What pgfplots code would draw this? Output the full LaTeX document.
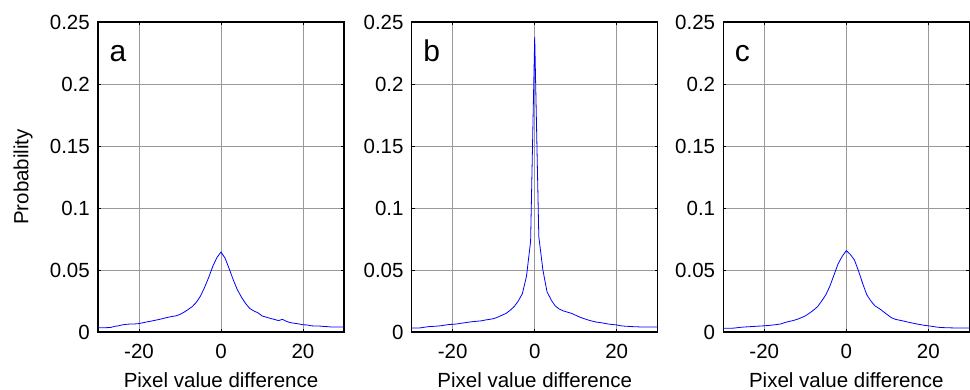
\documentclass[border=0pt]{standalone}
\usepackage{pgfplots}
\pgfplotsset{compat=1.18}
\usepackage{pgfplotstable}
\usepackage{fontspec}
\setmainfont{Liberation Sans}

\pgfplotstableread{
x y
-30 0.0035
-29 0.0035
-28 0.0035
-27 0.0036
-26 0.0045
-25 0.0050
-24 0.0058
-23 0.0062
-22 0.0065
-21 0.0065
-20 0.0068
-19 0.0075
-18 0.0082
-17 0.0088
-16 0.0095
-15 0.0102
-14 0.0110
-13 0.0118
-12 0.0125
-11 0.0130
-10 0.0142
-9 0.0160
-8 0.0182
-7 0.0205
-6 0.0240
-5 0.0290
-4 0.0360
-3 0.0440
-2 0.0530
-1 0.0600
0 0.0645
1 0.0595
2 0.0510
3 0.0420
4 0.0340
5 0.0280
6 0.0230
7 0.0190
8 0.0170
9 0.0155
10 0.0130
11 0.0120
12 0.0110
13 0.0102
14 0.0092
15 0.0102
16 0.0085
17 0.0075
18 0.0070
19 0.0065
20 0.0058
21 0.0057
22 0.0050
23 0.0048
24 0.0048
25 0.0045
26 0.0043
27 0.0040
28 0.0040
29 0.0040
30 0.0040
}\dataA

\pgfplotstableread{
x y
-30 0.0032
-29 0.0032
-28 0.0033
-27 0.0038
-26 0.0043
-25 0.0045
-24 0.0047
-23 0.0050
-22 0.0055
-21 0.0060
-20 0.0062
-19 0.0065
-18 0.0070
-17 0.0075
-16 0.0080
-15 0.0084
-14 0.0087
-13 0.0090
-12 0.0097
-11 0.0102
-10 0.0108
-9 0.0120
-8 0.0135
-7 0.0150
-6 0.0175
-5 0.0205
-4 0.0250
-3 0.0310
-2 0.0450
-1 0.0730
0 0.2380
1 0.0770
2 0.0500
3 0.0325
4 0.0260
5 0.0210
6 0.0185
7 0.0170
8 0.0160
9 0.0150
10 0.0135
11 0.0120
12 0.0108
13 0.0097
14 0.0088
15 0.0080
16 0.0076
17 0.0070
18 0.0064
19 0.0060
20 0.0057
21 0.0050
22 0.0047
23 0.0045
24 0.0043
25 0.0042
26 0.0040
27 0.0040
28 0.0040
29 0.0040
30 0.0040
}\dataB

\pgfplotstableread{
x y
-30 0.0030
-29 0.0030
-28 0.0030
-27 0.0033
-26 0.0037
-25 0.0040
-24 0.0042
-23 0.0044
-22 0.0046
-21 0.0048
-20 0.0050
-19 0.0053
-18 0.0056
-17 0.0060
-16 0.0065
-15 0.0076
-14 0.0085
-13 0.0092
-12 0.0102
-11 0.0115
-10 0.0130
-9 0.0152
-8 0.0176
-7 0.0205
-6 0.0250
-5 0.0300
-4 0.0370
-3 0.0460
-2 0.0550
-1 0.0610
0 0.0656
1 0.0625
2 0.0580
3 0.0490
4 0.0390
5 0.0300
6 0.0250
7 0.0210
8 0.0190
9 0.0165
10 0.0140
11 0.0115
12 0.0102
13 0.0095
14 0.0088
15 0.0080
16 0.0073
17 0.0066
18 0.0060
19 0.0054
20 0.0050
21 0.0045
22 0.0040
23 0.0036
24 0.0035
25 0.0034
26 0.0033
27 0.0032
28 0.0032
29 0.0032
30 0.0032
}\dataC

\pgfplotsset{
  panel/.style={
    scale only axis, width=246bp, height=310bp,
    anchor=south west,
    xmin=-30, xmax=30, ymin=0, ymax=0.25,
    xtick={-20,0,20}, xticklabels={-20,0,20},
    ytick={0,0.05,0.1,0.15,0.2,0.25},
    yticklabels={0,0.05,0.1,0.15,0.2,0.25},
    /pgf/number format/assume math mode=true,
    grid=major,
    major grid style={solid, black!40, line width=0.7bp},
    axis line style={black, line width=1.1bp},
    tick align=inside, major tick length=3bp,
    tick style={black, line width=0.6bp},
    every tick label/.append style={font=\fontsize{20.5bp}{24bp}\selectfont, inner sep=0pt},
    xticklabel style={anchor=north, yshift=-12bp},
    yticklabel style={anchor=east, xshift=-8bp},
    xlabel={Pixel value difference},
    xlabel style={font=\fontsize{20.5bp}{24bp}\selectfont, at={(axis description cs:0.5,0)}, anchor=base, inner sep=0pt, yshift=-55bp},
    clip=true,
  },
  curve/.style={blue, line width=0.8bp, mark=none},
}

\begin{document}
\begin{tikzpicture}
\useasboundingbox (0,0) rectangle (970bp,390bp);

\begin{axis}[panel, at={(98bp,58bp)},
  ylabel={Probability},
  ylabel style={font=\fontsize{20.5bp}{24bp}\selectfont, at={(axis description cs:-0.3049,0.5)}, anchor=center, inner sep=0pt}]
\addplot[curve] table[x=x,y=y] {\dataA};
\node[anchor=base west, inner sep=0pt, font=\fontsize{30bp}{34bp}\selectfont] at (axis cs:-27.2,0.218) {a};
\end{axis}

\begin{axis}[panel, at={(411.7bp,58bp)}]
\addplot[curve] table[x=x,y=y] {\dataB};
\node[anchor=base west, inner sep=0pt, font=\fontsize{30bp}{34bp}\selectfont] at (axis cs:-27.2,0.218) {b};
\end{axis}

\begin{axis}[panel, at={(723.3bp,58bp)}]
\addplot[curve] table[x=x,y=y] {\dataC};
\node[anchor=base west, inner sep=0pt, font=\fontsize{30bp}{34bp}\selectfont] at (axis cs:-27.2,0.218) {c};
\end{axis}
\end{tikzpicture}
\end{document}
